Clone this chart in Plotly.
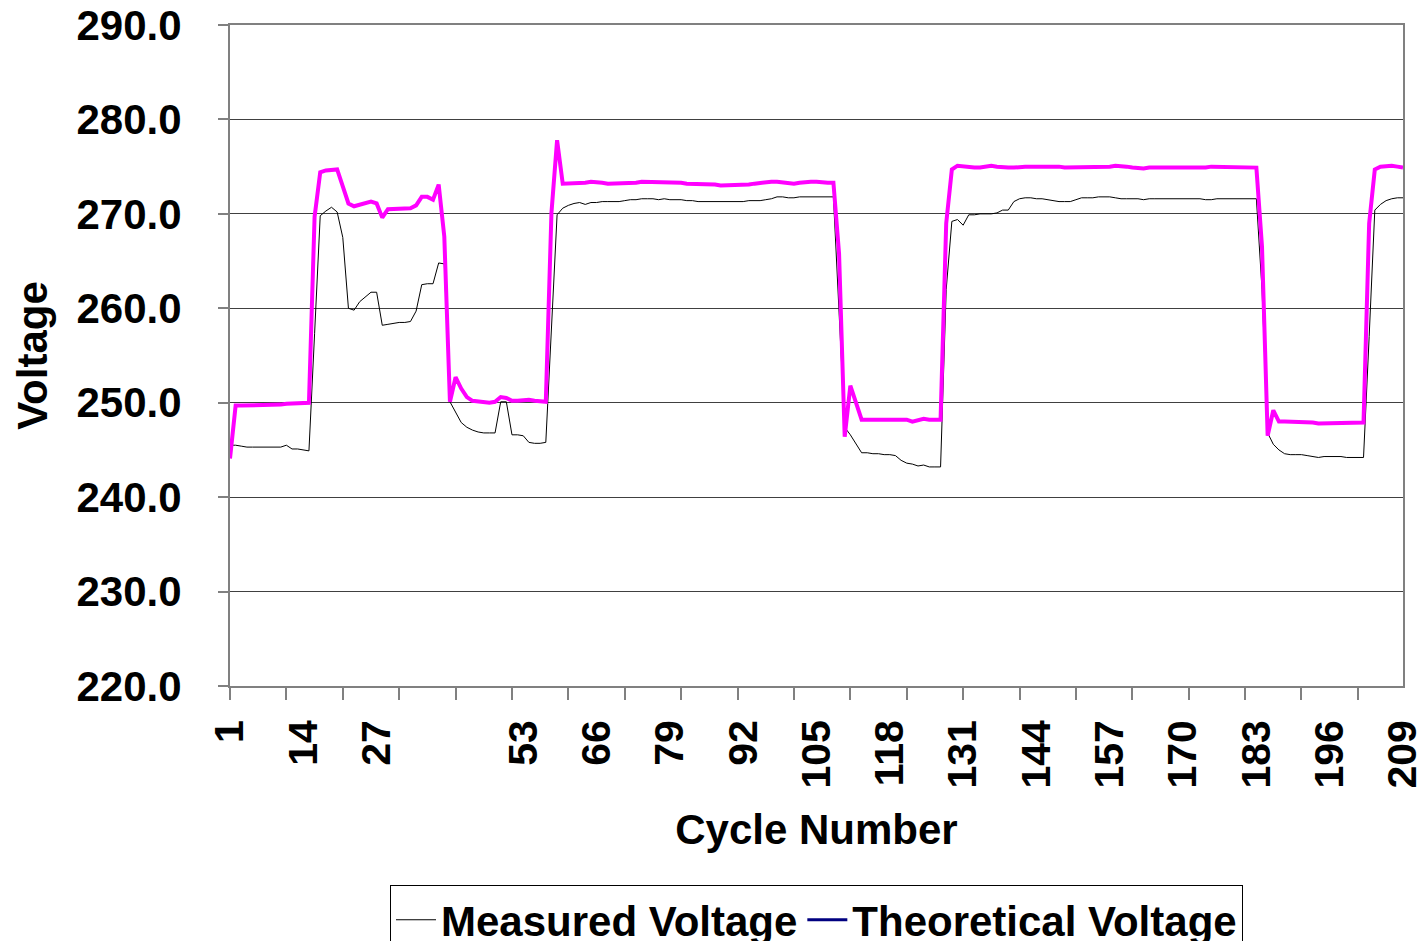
import plotly.graph_objects as go

cycles = list(range(1, 210))

theoretical_voltage = [
    244.1, 249.7, 249.7, 249.7, 249.7, 249.7, 249.7, 249.8, 249.8, 249.8,
    249.9, 249.9, 250.0, 250.0, 250.0, 269.7, 274.4, 274.6, 274.6, 274.7,
    272.9, 271.1, 270.8, 271.0, 271.1, 271.3, 271.1, 269.6, 270.5, 270.5,
    270.5, 270.6, 270.6, 270.9, 271.8, 271.8, 271.5, 273.1, 267.6, 250.1,
    252.7, 251.5, 250.6, 250.2, 250.1, 250.0, 250.0, 250.1, 250.6, 250.5,
    250.2, 250.2, 250.3, 250.3, 250.2, 250.1, 250.1, 270.1, 277.8, 273.2,
    273.2, 273.2, 273.2, 273.3, 273.4, 273.4, 273.3, 273.2, 273.2, 273.3,
    273.3, 273.3, 273.3, 273.4, 273.4, 273.4, 273.4, 273.4, 273.4, 273.3,
    273.3, 273.2, 273.2, 273.2, 273.2, 273.1, 273.1, 273.0, 273.0, 273.0,
    273.1, 273.1, 273.1, 273.2, 273.3, 273.3, 273.4, 273.4, 273.3, 273.2,
    273.2, 273.3, 273.4, 273.4, 273.4, 273.3, 273.3, 273.3, 265.8, 246.4,
    251.8, 250.0, 248.2, 248.2, 248.2, 248.2, 248.1, 248.2, 248.2, 248.1,
    248.2, 248.0, 248.1, 248.3, 248.2, 248.2, 248.2, 269.0, 274.7, 275.1,
    275.0, 274.9, 274.9, 274.9, 275.0, 275.1, 275.0, 274.9, 274.9, 274.9,
    275.0, 275.0, 275.0, 275.0, 275.1, 275.1, 275.1, 275.0, 274.9, 274.9,
    274.9, 275.0, 275.0, 275.0, 275.0, 275.0, 275.0, 275.1, 275.1, 275.0,
    274.9, 274.8, 274.8, 274.9, 274.9, 274.9, 274.9, 274.9, 274.8, 274.8,
    274.8, 274.8, 274.8, 274.9, 275.0, 275.0, 275.0, 275.0, 275.0, 274.9,
    274.9, 274.9, 274.9, 266.5, 246.5, 249.2, 248.0, 248.0, 248.0, 248.0,
    248.0, 247.9, 247.9, 247.8, 247.8, 247.9, 247.9, 247.9, 247.9, 247.9,
    247.9, 247.9, 269.0, 274.7, 275.0, 275.1, 275.1, 275.0, 274.9,
]

measured_voltage = [
    245.5, 245.5, 245.4, 245.3, 245.3, 245.3, 245.3, 245.3, 245.3, 245.3,
    245.5, 245.1, 245.1, 245.0, 244.9, 257.3, 269.8, 270.3, 270.7, 270.2,
    267.5, 260.0, 259.8, 260.7, 261.2, 261.7, 261.7, 258.2, 258.3, 258.4,
    258.5, 258.5, 258.6, 259.7, 262.5, 262.6, 262.6, 264.8, 264.7, 250.1,
    249.0, 247.9, 247.4, 247.1, 246.9, 246.8, 246.8, 246.8, 250.1, 250.1,
    246.6, 246.6, 246.5, 245.8, 245.7, 245.7, 245.8, 258.0, 269.9, 270.6,
    270.9, 271.1, 271.2, 271.0, 271.2, 271.2, 271.3, 271.3, 271.3, 271.3,
    271.4, 271.5, 271.5, 271.6, 271.6, 271.6, 271.5, 271.6, 271.5, 271.5,
    271.5, 271.4, 271.4, 271.3, 271.3, 271.3, 271.3, 271.3, 271.3, 271.3,
    271.3, 271.3, 271.4, 271.4, 271.4, 271.5, 271.6, 271.8, 271.8, 271.7,
    271.7, 271.8, 271.8, 271.8, 271.8, 271.8, 271.8, 271.8, 259.6, 247.4,
    246.6, 245.7, 244.7, 244.7, 244.6, 244.6, 244.5, 244.5, 244.4, 243.9,
    243.6, 243.5, 243.3, 243.4, 243.2, 243.2, 243.2, 262.0, 269.2, 269.4,
    268.8, 269.9, 269.9, 270.0, 270.0, 270.0, 270.1, 270.4, 270.4, 271.3,
    271.6, 271.7, 271.7, 271.6, 271.6, 271.5, 271.4, 271.3, 271.3, 271.3,
    271.5, 271.7, 271.7, 271.7, 271.8, 271.8, 271.8, 271.7, 271.6, 271.6,
    271.6, 271.6, 271.5, 271.6, 271.6, 271.6, 271.6, 271.6, 271.6, 271.6,
    271.6, 271.6, 271.6, 271.5, 271.5, 271.6, 271.6, 271.6, 271.6, 271.6,
    271.6, 271.6, 271.6, 262.0, 246.8, 245.6, 245.0, 244.6, 244.5, 244.5,
    244.5, 244.4, 244.3, 244.2, 244.3, 244.3, 244.3, 244.3, 244.2, 244.2,
    244.2, 244.2, 257.0, 270.4, 271.0, 271.4, 271.6, 271.7, 271.7,
]

tick_mark_cycles = list(range(1, 202, 10))
label_cycles = [1, 14, 27, 53, 66, 79, 92, 105, 118, 131, 144, 157, 170, 183, 196, 209]
label_text = [str(c) for c in label_cycles]
y_ticks = [220, 230, 240, 250, 260, 270, 280, 290]

FONT = "Liberation Sans, Arial, sans-serif"
GRAY = "#808080"

fig = go.Figure()
fig.add_trace(go.Scatter(x=cycles, y=measured_voltage, mode="lines",
                         line=dict(color="black", width=1), showlegend=False,
                         name="Measured Voltage"))
fig.add_trace(go.Scatter(x=cycles, y=theoretical_voltage, mode="lines",
                         line=dict(color="#FF00FF", width=4), showlegend=False,
                         name="Theoretical Voltage"))
# invisible trace to anchor the label axis
fig.add_trace(go.Scatter(x=[cycles[0], cycles[-1]], y=[measured_voltage[0], measured_voltage[-1]],
                         xaxis="x2", mode="markers", marker=dict(opacity=0),
                         showlegend=False, hoverinfo="skip"))
# legend entries (as drawn in the reference legend)
fig.add_trace(go.Scatter(x=[None], y=[None], mode="lines", name="Measured Voltage",
                         line=dict(color="black", width=1)))
fig.add_trace(go.Scatter(x=[None], y=[None], mode="lines", name="Theoretical Voltage",
                         line=dict(color="#000080", width=3)))

fig.update_layout(
    width=1423, height=941,
    margin=dict(l=230, r=20, t=25, b=255, autoexpand=False),
    paper_bgcolor="white", plot_bgcolor="white",
    font=dict(family=FONT, color="black"),
    xaxis=dict(
        range=[1, 209], showline=True, linecolor=GRAY, linewidth=2, mirror=True,
        tickmode="array", tickvals=tick_mark_cycles, showticklabels=False,
        ticks="outside", ticklen=12, tickwidth=2, tickcolor=GRAY,
        showgrid=False, zeroline=False,
    ),
    xaxis2=dict(
        overlaying="x", anchor="y", side="bottom", range=[1, 209],
        tickmode="array", tickvals=label_cycles, ticktext=label_text,
        tickangle=-90, ticks="", showline=False, showgrid=False, zeroline=False,
        tickfont=dict(family=FONT, size=41, color="black", weight="bold"),
        ticklabelstandoff=25, ticklabeloverflow="allow",
        title=dict(text="Cycle Number", standoff=26,
                   font=dict(family=FONT, size=42, color="black", weight="bold")),
    ),
    yaxis=dict(
        range=[220, 290], tickmode="array", tickvals=y_ticks, tickformat=".1f",
        showline=True, linecolor=GRAY, linewidth=2, mirror=True,
        ticks="outside", ticklen=10, tickwidth=2, tickcolor=GRAY,
        showgrid=True, gridcolor="#404040", gridwidth=1, zeroline=False,
        tickfont=dict(family=FONT, size=42, color="black", weight="bold"),
        ticklabelstandoff=28,
        title=dict(text="Voltage", standoff=16,
                   font=dict(family=FONT, size=42, color="black", weight="bold")),
    ),
    legend=dict(
        orientation="h", x=0.5, xanchor="center", y=-0.301, yanchor="top",
        font=dict(family=FONT, size=42, color="black", weight="bold"),
        bgcolor="white", bordercolor="black", borderwidth=1,
        itemwidth=40, tracegroupgap=0,
    ),
)

fig.write_html("out.html", config={"displayModeBar": False},
               post_script="document.body.style.margin='0';document.body.style.overflow='hidden';")
